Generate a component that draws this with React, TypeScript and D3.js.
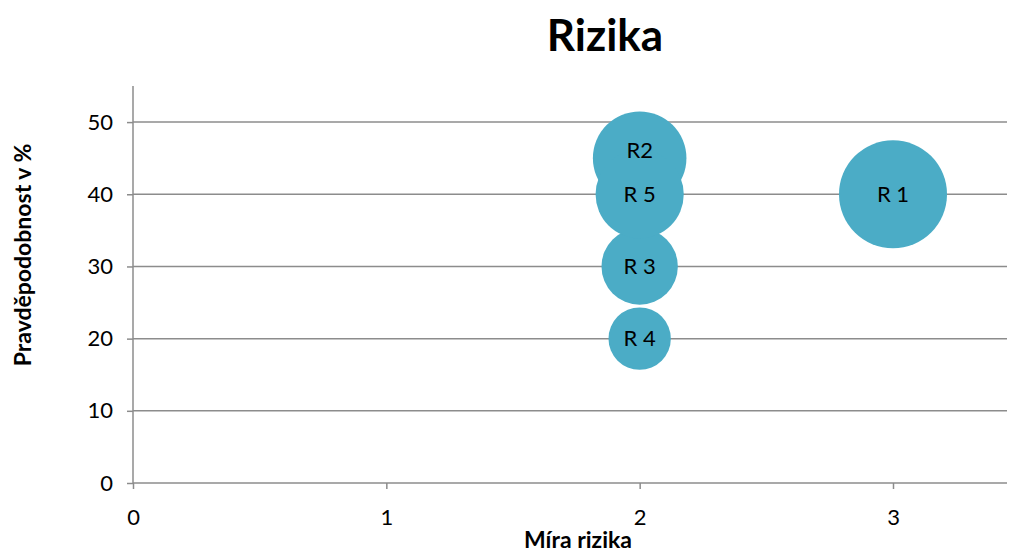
import { useEffect, useRef } from "react"
import * as d3 from "d3"

const labels = ["R 1", "R2", "R 3", "R 4", "R 5"]
const riskLevel = [3, 2, 2, 2, 2]
const probability = [40, 45, 30, 20, 40]
const bubbleSize = [12, 9, 6, 4, 8]
const xTicks = [0, 1, 2, 3]
const yTicks = [0, 10, 20, 30, 40, 50]

const App = () => {
  const svgRef = useRef(null)

  useEffect(() => {
    const width = 1009
    const height = 552
    const margin = { top: 86, right: 2, bottom: 69, left: 133 }
    const font = "Lato, 'Open Sans', sans-serif"

    const svg = d3.select(svgRef.current)
    svg.selectAll("*").remove()
    svg.attr("width", width).attr("height", height)

    const x = d3.scaleLinear().domain([0, 3.45]).range([margin.left, width - margin.right])
    const y = d3.scaleLinear().domain([0, 55]).range([height - margin.bottom, margin.top])
    const r = d3.scaleSqrt().domain([0, d3.max(bubbleSize)]).range([0, 54])

    // title
    svg.append("text")
      .attr("x", 605).attr("y", 51)
      .attr("text-anchor", "middle")
      .style("font-family", font).style("font-size", "44px").style("font-weight", "bold")
      .text("Rizika")

    // gridlines
    svg.selectAll(".grid")
      .data(yTicks.filter((t) => t > 0))
      .enter().append("line")
      .attr("x1", x(0)).attr("x2", x(3.45))
      .attr("y1", (d) => y(d)).attr("y2", (d) => y(d))
      .attr("stroke", "#8c8c8c").attr("stroke-width", 1.5)

    // y axis
    const yAxis = svg.append("g")
      .attr("transform", `translate(${x(0)},0)`)
      .call(d3.axisLeft(y).tickValues(yTicks).tickFormat(d3.format("d")).tickSize(6).tickPadding(14))
    yAxis.select(".domain").attr("stroke", "#8c8c8c").attr("stroke-width", 1.5)
      .attr("d", `M0,${y(0)}V${y(55)}`)
    yAxis.selectAll(".tick line").attr("stroke", "#8c8c8c").attr("stroke-width", 1.5)
    yAxis.selectAll(".tick text").style("font-family", font).style("font-size", "22px").attr("fill", "#000")

    // x axis
    const xAxis = svg.append("g")
      .attr("transform", `translate(0,${y(0)})`)
      .call(d3.axisBottom(x).tickValues(xTicks).tickFormat(d3.format("d")).tickSize(6).tickPadding(20))
    xAxis.select(".domain").attr("stroke", "#8c8c8c").attr("stroke-width", 1.5)
      .attr("d", `M${x(0)},0H${x(3.45)}`)
    xAxis.selectAll(".tick line").attr("stroke", "#8c8c8c").attr("stroke-width", 1.5)
    xAxis.selectAll(".tick text").style("font-family", font).style("font-size", "22px").attr("fill", "#000")

    // axis titles
    svg.append("text")
      .attr("x", 578).attr("y", 548)
      .attr("text-anchor", "middle")
      .style("font-family", font).style("font-size", "23px").style("font-weight", "bold")
      .text("Míra rizika")
    svg.append("text")
      .attr("transform", `translate(31,255) rotate(-90)`)
      .attr("text-anchor", "middle")
      .style("font-family", font).style("font-size", "23px").style("font-weight", "bold")
      .text("Pravděpodobnost v %")

    const data = labels.map((label, i) => ({
      label,
      x: riskLevel[i],
      y: probability[i],
      size: bubbleSize[i],
    }))

    // bubbles
    svg.selectAll(".bubble")
      .data(data)
      .enter().append("circle")
      .attr("cx", (d) => x(d.x)).attr("cy", (d) => y(d.y))
      .attr("r", (d) => r(d.size))
      .attr("fill", "#4bacc6")

    // labels (R2 label sits a bit above its centre in the original)
    svg.selectAll(".lbl")
      .data(data)
      .enter().append("text")
      .attr("x", (d) => x(d.x))
      .attr("y", (d) => y(d.y) + (d.label === "R2" ? -8 : 0))
      .attr("dy", "0.35em")
      .attr("text-anchor", "middle")
      .style("font-family", font).style("font-size", "22px")
      .text((d) => d.label)
  }, [])

  return <svg ref={svgRef} style={{ position: "absolute", left: 0, top: 0 }}></svg>
}

export default App
